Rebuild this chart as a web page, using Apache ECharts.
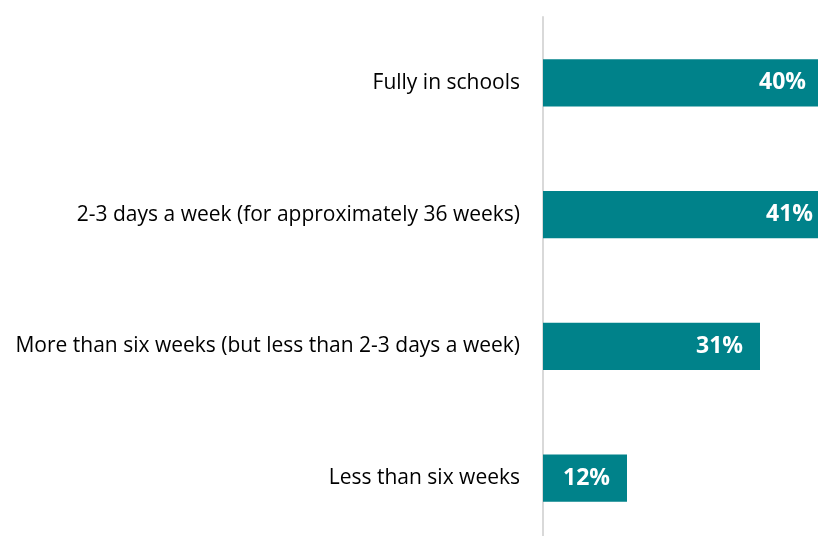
<!DOCTYPE html>
<html>
<head>
<meta charset="utf-8">
<script src="https://cdn.jsdelivr.net/npm/echarts@6/dist/echarts.min.js"></script>
<style>
    html, body { margin: 0; padding: 0; background: #fff; }
    #main { width: 818px; height: 536px; }
</style>
</head>
<body>
<div id="main"></div>
<script>
//--------------------数据---------------------------
var categories = [
    'Fully in schools',
    '2-3 days a week (for approximately 36 weeks)',
    'More than six weeks (but less than 2-3 days a week)',
    'Less than six weeks'
];
var values = [40, 41, 31, 12];   // 百分比
//--------------------数据---------------------------

var myChart = echarts.init(document.getElementById('main'));
var option = {
    animation: false,
    grid: {
        left: 543,
        right: -75,      // 右侧柱子超出画面
        top: 17,
        bottom: -8,
        containLabel: false,
        outerBoundsMode: 'none'
    },
    xAxis: {
        type: 'value',
        min: 0,
        max: 50,
        show: false
    },
    yAxis: {
        type: 'category',
        inverse: true,
        data: categories,
        axisLine: { show: true, lineStyle: { color: '#d9d9d9', width: 2 } },
        axisTick: { show: false },
        axisLabel: {
            margin: 23,
            color: '#000',
            fontSize: 21,
            fontFamily: 'Open Sans'
        }
    },
    series: [
        {
            type: 'bar',
            data: values,
            barWidth: '36%',
            clip: false,
            itemStyle: { color: '#00828A' },
            label: {
                show: true,
                position: 'insideRight',
                distance: 17,
                formatter: '{c}%',
                color: '#fff',
                fontWeight: 'bold',
                fontSize: 23,
                fontFamily: 'Open Sans'
            }
        }
    ]
};
myChart.setOption(option);
</script>
</body>
</html>
